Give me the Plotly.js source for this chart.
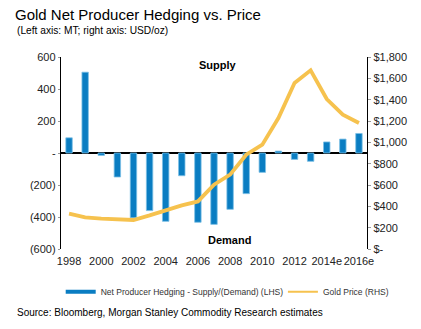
<!DOCTYPE html>
<html><head><meta charset="utf-8">
<script src="https://cdn.plot.ly/plotly-3.0.1.min.js"></script>
<style>html,body{margin:0;padding:0;background:#fff}#c{width:421px;height:329px}</style>
</head><body><div id="c"></div>
<script>
var years = ['1998','1999','2000','2001','2002','2003','2004','2005','2006','2007','2008','2009','2010','2011','2012','2013','2014e','2015e','2016e'];
var hedging = [95, 505, -15, -150, -405, -360, -427, -142, -433, -446, -352, -254, -121, 12, -40, -52, 69, 87, 122];
var goldPrice = [331, 296, 284, 278, 272, 315, 366, 409, 446, 603, 697, 884, 978, 1228, 1556, 1675, 1406, 1259, 1181];
var xTickVals = ['1998','2000','2002','2004','2006','2008','2010','2012','2014e','2016e'];
var leftTickVals = [600, 400, 200, 0, -200, -400, -600];
var leftTickText = ['600', '400', '200', '-', '(200)', '(400)', '(600)'];
var rightTickVals = [1800, 1600, 1400, 1200, 1000, 800, 600, 400, 200, 0];
var rightTickText = ['$1,800', '$1,600', '$1,400', '$1,200', '$1,000', '$800', '$600', '$400', '$200', '$-'];
var barName = 'Net Producer Hedging - Supply/(Demand) (LHS)';
var lineName = 'Gold Price (RHS)';

var FONT = 'Liberation Sans, Arial, sans-serif';
var blue = '#0A7DC2', gold = '#F6C24E';

// boundary ticks every two categories on the zero line
var boundaryTicks = [];
for (var i = 1; i < years.length - 1; i += 2) boundaryTicks.push(i + 0.5);

var traces = [
  {type: 'bar', x: years, y: hedging, name: barName, showlegend: false,
   marker: {color: blue, line: {color: '#7CC0E6', width: 0.8}}, width: 0.4, yaxis: 'y', xaxis: 'x'},
  {type: 'scatter', mode: 'lines', x: years, y: goldPrice, name: lineName, showlegend: false,
   line: {color: gold, width: 3.8}, yaxis: 'y2', xaxis: 'x'},
  {type: 'scatter', mode: 'lines', x: [null], y: [null], name: barName, line: {color: blue, width: 4}, yaxis: 'y', xaxis: 'x', legend: 'legend'},
  {type: 'scatter', mode: 'lines', x: [null], y: [null], name: lineName, line: {color: gold, width: 2}, yaxis: 'y', xaxis: 'x', legend: 'legend2'}
];

var legendFont = {family: FONT, size: 8.5, color: '#333'};
var layout = {
  width: 421, height: 329,
  margin: {l: 61, r: 54, t: 57, b: 80},
  paper_bgcolor: '#fff', plot_bgcolor: '#fff',
  font: {family: FONT, size: 11, color: '#222'},
  title: {text: 'Gold Net Producer Hedging vs. Price', font: {family: FONT, size: 15, color: '#000'},
          x: 15/421, xanchor: 'left', xref: 'container', y: 1 - 15/329, yanchor: 'middle', yref: 'container'},
  showlegend: true,
  legend: {orientation: 'h', x: (61-61.3)/305.7, xanchor: 'left', xref: 'paper', y: (249.3-292)/192, yanchor: 'middle', yref: 'paper',
           font: legendFont, itemwidth: 30, bgcolor: 'rgba(0,0,0,0)'},
  legend2: {orientation: 'h', x: (283-61.3)/305.7, xanchor: 'left', xref: 'paper', y: (249.3-292)/192, yanchor: 'middle', yref: 'paper',
           font: legendFont, itemwidth: 30, bgcolor: 'rgba(0,0,0,0)'},
  xaxis: {type: 'category', categoryorder: 'array', categoryarray: years, range: [-0.5, years.length - 0.5],
          tickmode: 'array', tickvals: xTickVals, ticktext: xTickVals, tickangle: 0, ticks: '', showline: false, showgrid: false,
          zeroline: false, tickfont: {size: 11, color: '#222'}, ticklabelstandoff: 4, fixedrange: true},
  xaxis2: {type: 'linear', overlaying: 'x', anchor: 'free', position: 0.5, range: [-0.5, years.length - 0.5],
           tickmode: 'array', tickvals: boundaryTicks, showticklabels: false, ticks: 'outside', ticklen: 3,
           tickcolor: '#aaa', tickwidth: 1, showline: false, showgrid: false, zeroline: false},
  yaxis: {range: [-600, 600], tickmode: 'array', tickvals: leftTickVals, ticktext: leftTickText,
          showline: true, linecolor: '#000', linewidth: 1.2, ticks: 'outside', ticklen: 2, tickcolor: '#999',
          showgrid: false, zeroline: true, zerolinecolor: '#000', zerolinewidth: 1.2, tickfont: {size: 11, color: '#222'}},
  yaxis2: {range: [0, 1800], overlaying: 'y', side: 'right', tickmode: 'array', tickvals: rightTickVals, ticktext: rightTickText,
           showline: true, linecolor: '#000', linewidth: 1.2, ticks: 'outside', ticklen: 3, tickcolor: '#999',
           showgrid: false, zeroline: false, tickfont: {size: 11, color: '#222'}},
  annotations: [
    {text: '(Left axis: MT; right axis: USD/oz)', xref: 'paper', yref: 'paper', x: (15-61)/306, y: (249.3-31)/192,
     xanchor: 'left', yanchor: 'middle', showarrow: false, font: {size: 10.2, color: '#000'}},
    {text: '<b>Supply</b>', xref: 'paper', yref: 'paper', x: (218-61.3)/305.7, y: (249.3-65)/192,
     xanchor: 'center', yanchor: 'middle', showarrow: false, font: {size: 11, color: '#000'}},
    {text: '<b>Demand</b>', xref: 'paper', yref: 'paper', x: (230-61.3)/305.7, y: (249.3-240)/192,
     xanchor: 'center', yanchor: 'middle', showarrow: false, font: {size: 11, color: '#000'}},
    {text: 'Source: Bloomberg, Morgan Stanley Commodity Research estimates', xref: 'paper', yref: 'paper',
     x: (15-61)/306, y: (249.3-313)/192, xanchor: 'left', yanchor: 'middle', showarrow: false, font: {size: 10, color: '#000'}}
  ]
};

Plotly.newPlot('c', traces, layout, {displayModeBar: false, staticPlot: true});
</script></body></html>
